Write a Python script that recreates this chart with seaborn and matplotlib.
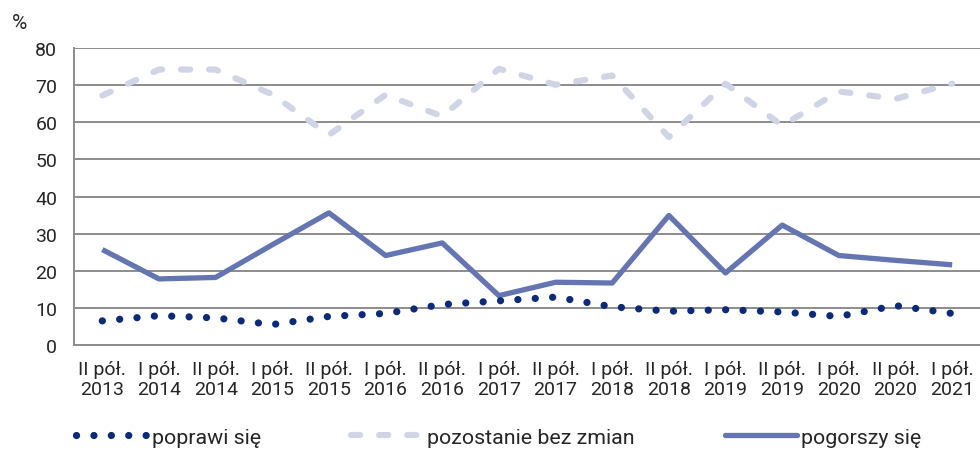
import numpy as np
import pandas as pd
import matplotlib
matplotlib.use("Agg")
import matplotlib.pyplot as plt
from matplotlib.lines import Line2D
import seaborn as sns

# half-year periods
periods = ["II pół.\n2013", "I pół.\n2014", "II pół.\n2014", "I pół.\n2015",
           "II pół.\n2015", "I pół.\n2016", "II pół.\n2016", "I pół.\n2017",
           "II pół.\n2017", "I pół.\n2018", "II pół.\n2018", "I pół.\n2019",
           "II pół.\n2019", "I pół.\n2020", "II pół.\n2020", "I pół.\n2021"]

poprawi = [6.5, 7.9, 7.3, 5.5, 7.7, 8.5, 10.9, 11.9, 12.9, 10.3,
           9.1, 9.5, 8.9, 7.7, 10.6, 8.5]
bez_zmian = [67.2, 74.2, 74.2, 67.5, 56.6, 67.4, 61.6, 74.4, 70.1, 72.6,
             56.0, 70.4, 59.1, 68.3, 66.3, 70.4]
pogorszy = [25.7, 17.8, 18.2, 27.0, 35.6, 24.1, 27.5, 13.3, 16.9, 16.7,
            34.9, 19.4, 32.3, 24.1, 22.8, 21.6]

labels = ["poprawi się", "pozostanie bez zmian", "pogorszy się"]

c_dot = "#0b2a78"
c_dash = "#cfd4e6"
c_solid = "#6575b1"
c_grid = "#8c8c8c"

sns.set_style("white")
plt.rcParams["font.family"] = ["Roboto", "DejaVu Sans"]

df = pd.DataFrame({"x": np.arange(len(periods)), "poprawi": poprawi,
                   "bez_zmian": bez_zmian, "pogorszy": pogorszy})

fig = plt.figure(figsize=(9.8, 4.52), dpi=100)
ax = fig.add_axes([0.0755, 0.2345, 0.925, 0.6571])

lw_dot = 5.2
dot_style = (0, (0.01, 2.4))
dash_style = (0, (1.5, 3.1))
sns.lineplot(data=df, x="x", y="bez_zmian", ax=ax, color=c_dash, linewidth=4.4,
             linestyle=dash_style, dash_capstyle="round", zorder=3)
sns.lineplot(data=df, x="x", y="pogorszy", ax=ax, color=c_solid, linewidth=3.8,
             solid_capstyle="butt", zorder=4)
sns.lineplot(data=df, x="x", y="poprawi", ax=ax, color=c_dot, linewidth=lw_dot,
             linestyle=dot_style, dash_capstyle="round", zorder=5)

ax.set_xlim(-0.5, len(periods) - 0.5)
ax.set_ylim(0, 80)
ax.set_yticks(range(0, 81, 10))
ax.yaxis.grid(True, color=c_grid, linewidth=1.4)
ax.set_axisbelow(True)

ax.set_xticks(np.arange(len(periods)))
ax.set_xticklabels(periods, fontsize=14, linespacing=1.1)
ax.set_xticks(np.arange(len(periods) + 1) - 0.5, minor=True)
ax.tick_params(axis="x", which="major", length=0, pad=11)
ax.tick_params(axis="x", which="minor", length=6, width=1.4, color=c_grid)
ax.tick_params(axis="y", length=6, width=1.4, color=c_grid, labelsize=14, pad=6)
ax.set_xlabel("")
ax.set_ylabel("")

for s in ["top", "right"]:
    ax.spines[s].set_visible(False)
for s in ["left", "bottom"]:
    ax.spines[s].set_color(c_grid)
    ax.spines[s].set_linewidth(1.4)

fig.text(0.012, 0.948, "%", fontsize=15, ha="left", va="center")

handles = [
    Line2D([], [], color=c_dot, linewidth=lw_dot, linestyle=dot_style,
           dash_capstyle="round"),
    Line2D([], [], color=c_dash, linewidth=4.4, linestyle=dash_style,
           dash_capstyle="round"),
    Line2D([], [], color=c_solid, linewidth=3.8),
]
fig.legend(handles, labels, loc="center left", bbox_to_anchor=(0.078, 0.03),
           ncol=3, frameon=False, fontsize=15.4, handlelength=3.4,
           handletextpad=0.15, columnspacing=4.2, borderpad=0, borderaxespad=0)

fig.savefig("out.png", dpi=100)
